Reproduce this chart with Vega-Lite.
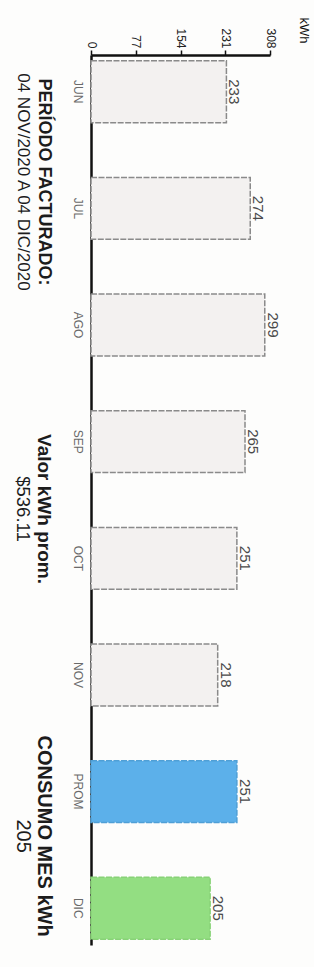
{
  "$schema": "https://vega.github.io/schema/vega-lite/v6.json",
  "background": "#fdfdfc",
  "padding": {"top": 17, "left": 5, "right": 5, "bottom": 5},
  "config": {
    "font": "Liberation Sans",
    "view": {"stroke": null},
    "concat": {"spacing": 9}
  },
  "datasets": {
    "consumo": [
      {"mes": "JUN", "kwh": 233, "tipo": "historico"},
      {"mes": "JUL", "kwh": 274, "tipo": "historico"},
      {"mes": "AGO", "kwh": 299, "tipo": "historico"},
      {"mes": "SEP", "kwh": 265, "tipo": "historico"},
      {"mes": "OCT", "kwh": 251, "tipo": "historico"},
      {"mes": "NOV", "kwh": 218, "tipo": "historico"},
      {"mes": "PROM", "kwh": 251, "tipo": "promedio"},
      {"mes": "DIC", "kwh": 205, "tipo": "actual"}
    ],
    "info": [
      {"bloque": "periodo", "linea": "titulo", "texto": "PERÍODO FACTURADO:"},
      {"bloque": "periodo", "linea": "valor", "texto": "04 NOV/2020 A 04 DIC/2020"},
      {"bloque": "valor", "linea": "titulo", "texto": "Valor kWh prom."},
      {"bloque": "valor", "linea": "valor", "texto": "$536.11"},
      {"bloque": "consumo", "linea": "titulo", "texto": "CONSUMO MES kWh"},
      {"bloque": "consumo", "linea": "valor", "texto": "205"}
    ]
  },
  "hconcat": [
    {
      "width": 57,
      "height": 908,
      "data": {"name": "info"},
      "encoding": {
        "x": {"field": "linea", "type": "nominal", "scale": {"type": "point", "domain": ["valor", "titulo"], "padding": 0.857}, "axis": null},
        "y": {"field": "bloque", "type": "nominal", "scale": {"type": "point", "domain": ["periodo", "valor", "consumo"], "padding": 0.388}, "axis": null},
        "text": {"field": "texto"}
      },
      "layer": [
        {
          "transform": [{"filter": "datum.linea === 'titulo'"}],
          "mark": {"type": "text", "angle": 90, "align": "center", "baseline": "middle", "fontWeight": "bold", "color": "#1c1c1c"},
          "encoding": {
            "size": {"field": "bloque", "type": "ordinal", "scale": {"domain": ["periodo", "valor", "consumo"], "range": [18, 20, 17]}, "legend": null}
          }
        },
        {
          "transform": [{"filter": "datum.linea === 'valor'"}],
          "mark": {"type": "text", "angle": 90, "align": "center", "baseline": "middle", "color": "#1c1c1c"},
          "encoding": {
            "size": {"field": "bloque", "type": "ordinal", "scale": {"domain": ["periodo", "valor", "consumo"], "range": [17, 20, 19]}, "legend": null}
          }
        }
      ],
      "resolve": {"scale": {"size": "independent"}}
    },
    {
      "width": 179,
      "height": 890,
      "data": {"name": "consumo"},
      "encoding": {
        "y": {
          "field": "mes", "type": "nominal", "sort": null,
          "scale": {"paddingInner": 0.47, "paddingOuter": 0.05},
          "axis": {"orient": "left", "title": null, "ticks": false, "labelAngle": 90, "labelAlign": "center", "labelBaseline": "top", "labelPadding": 9, "labelFontSize": 12, "labelColor": "#6a6a6a", "labelOverlap": false, "domainColor": "#111111", "domainWidth": 2.5}
        },
        "x": {
          "field": "kwh", "type": "quantitative",
          "scale": {"domain": [0, 308], "nice": false},
          "axis": {"orient": "top", "values": [0, 77, 154, 231, 308], "grid": false, "title": "kWh", "titleAngle": 90, "titleX": 212, "titleY": -25, "titleAlign": "center", "titleBaseline": "middle", "titleFontSize": 13, "titleFontWeight": "normal", "titleColor": "#111111", "labelAngle": 90, "labelAlign": "right", "labelBaseline": "middle", "labelFontSize": 12, "labelPadding": 2, "labelFlush": false, "labelOverlap": false, "labelColor": "#222222", "tickSize": 5, "tickWidth": 1.5, "tickColor": "#111111", "domainColor": "#111111", "domainWidth": 2.5}
        }
      },
      "layer": [
        {
          "mark": {"type": "bar", "strokeWidth": 1.5, "strokeDash": [6, 1.5]},
          "encoding": {
            "color": {"field": "tipo", "type": "nominal", "scale": {"domain": ["historico", "promedio", "actual"], "range": ["#f3f1f0", "#5cb0ea", "#93de82"]}, "legend": null},
            "stroke": {"field": "tipo", "type": "nominal", "scale": {"domain": ["historico", "promedio", "actual"], "range": ["#8a8a8a", "#4f9fd6", "#88d277"]}, "legend": null}
          }
        },
        {
          "mark": {"type": "text", "angle": 90, "align": "center", "baseline": "bottom", "fontSize": 15, "color": "#4a4a4a"},
          "encoding": {"text": {"field": "kwh", "type": "quantitative"}}
        }
      ]
    }
  ]
}
